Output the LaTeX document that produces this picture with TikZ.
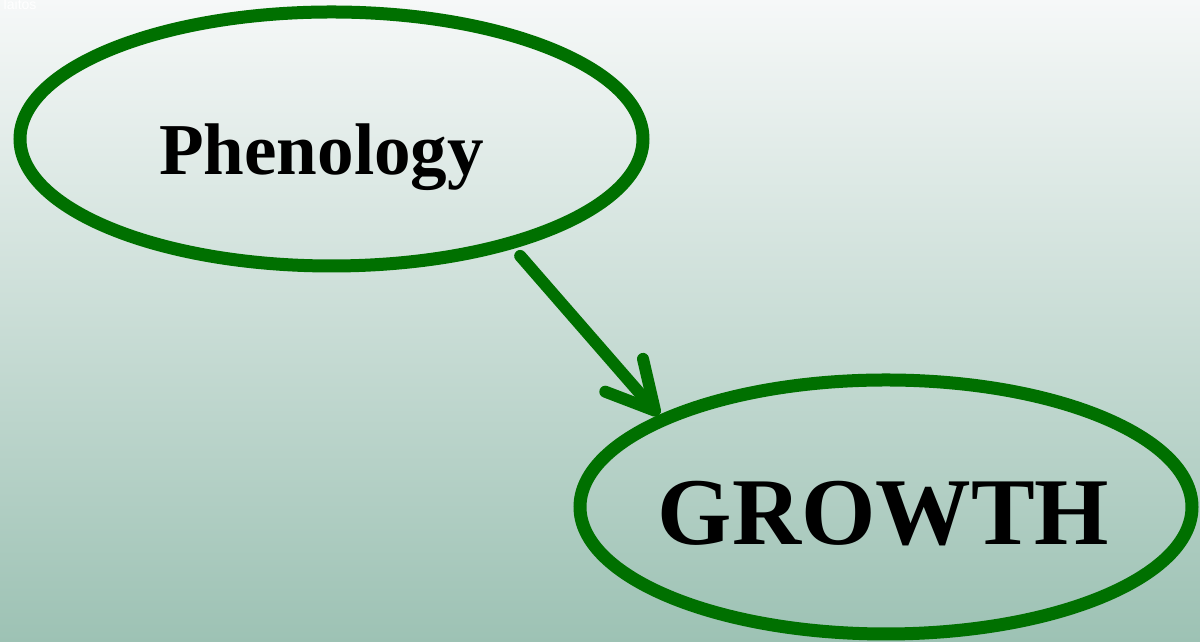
\documentclass[tikz,border=0pt]{standalone}
\usepackage{fontspec}
\setmainfont{Liberation Serif}
\newfontfamily\smallsans{Liberation Sans}
\usetikzlibrary{shapes.geometric,arrows.meta}
\definecolor{bgtop}{RGB}{246,248,248}
\definecolor{bgmid}{RGB}{214,228,224}
\definecolor{bgbot}{RGB}{157,194,180}
\definecolor{dgreen}{RGB}{0,112,0}
\tikzset{
  oval/.style={ellipse, draw=dgreen, line width=0.13cm, inner sep=0pt},
  bigtext/.style={inner sep=0pt, anchor=base, font=\bfseries},
  link/.style={draw=dgreen, line width=0.12cm, line cap=round, line join=round,
    -{Straight Barb[length=0.47cm, width=0.5cm, round]}},
}
\begin{document}
\begin{tikzpicture}[x=1cm,y=1cm]
\useasboundingbox (0,0) rectangle (12,-6.42);
\shade[top color=bgtop, middle color=bgmid, bottom color=bgbot] (0,0) rectangle (12,-6.42);
\node[inner sep=0pt, anchor=base west, text=white, font=\smallsans\fontsize{4pt}{5pt}\selectfont] (tag) at (0.03,-0.095) {laitos};
\node[oval, minimum width=6.23cm, minimum height=2.54cm] (ph) at (3.315,-1.39) {};
\node[oval, minimum width=6.12cm, minimum height=2.54cm] (gr) at (8.86,-5.07) {};
\node[bigtext, font=\bfseries\fontsize{20.8pt}{25pt}\selectfont] (pht) at (3.215,-1.75) {Phenology};
\node[bigtext, font=\bfseries\fontsize{27.2pt}{32pt}\selectfont] (grt) at (8.835,-5.45) {GROWTH};
\draw[link, shorten <=0.1cm, shorten >=0.0cm] (ph.-31) -- (gr.158);
\end{tikzpicture}
\end{document}
